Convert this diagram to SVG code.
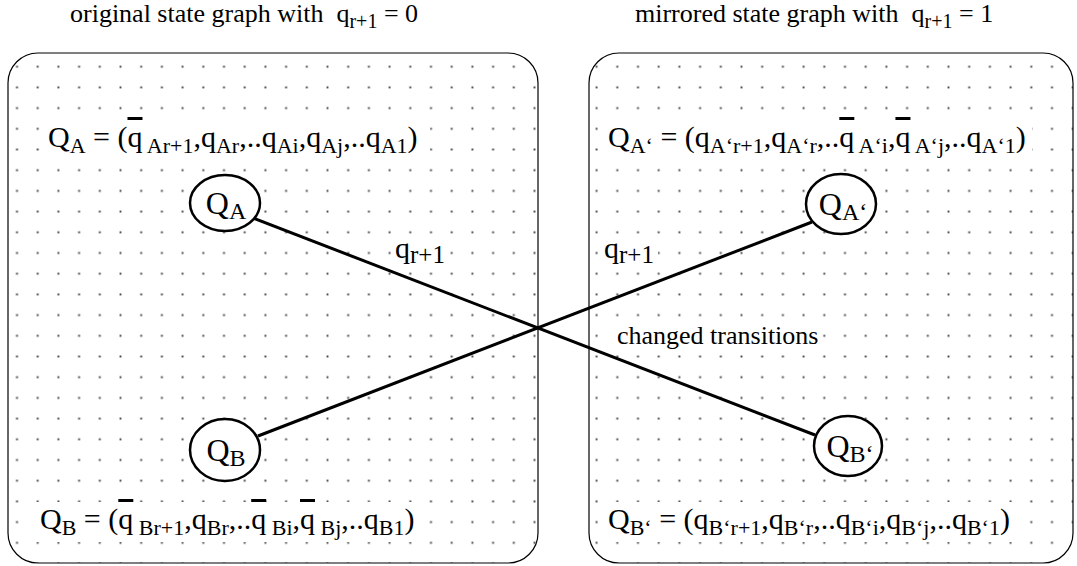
<svg xmlns="http://www.w3.org/2000/svg" width="1077" height="566" viewBox="0 0 1077 566">
<style>
text{font-family:"Liberation Serif","Times New Roman",serif;fill:#000}
.box{fill:url(#dots);stroke:#000;stroke-width:1.2}
.node{fill:#fff;stroke:#000;stroke-width:2.5}
.edge{stroke:#000;stroke-width:3;fill:none}
.bg{fill:#fff}
.ov{text-decoration:overline}
.f{font-size:30px}
.s{font-size:22px}
.n{font-size:32px;text-anchor:middle}
.ns{font-size:24px}
</style>
<defs>
<pattern id="dots" patternUnits="userSpaceOnUse" x="6.65" y="56.35" width="20.7" height="20.7">
<rect x="9.4" y="9.4" width="1.9" height="1.9" fill="#444"/>
</pattern>
</defs>
<g id="titles">
<text x="70" y="22" font-size="26">original state graph with&#160; q<tspan font-size="20" dy="6">r+1</tspan><tspan dy="-6"> = 0</tspan></text>
<text x="635" y="22" font-size="26">mirrored state graph with&#160; q<tspan font-size="20" dy="6">r+1</tspan><tspan dy="-6"> = 1</tspan></text>
</g>
<g id="left-panel">
<rect class="box" x="8" y="53" width="530" height="510" rx="30"/>
</g>
<g id="right-panel">
<rect class="box" x="589" y="53" width="484" height="510" rx="30"/>
</g>
<g id="labels">
<rect class="bg" x="42" y="120" width="388" height="40"/>
<text class="f" x="48" y="147">Q<tspan class="s" dy="6">A</tspan><tspan dy="-6"> = (</tspan><tspan class="ov">q</tspan><tspan class="s" dy="6"> Ar+1</tspan><tspan dy="-6">,q</tspan><tspan class="s" dy="6">Ar</tspan><tspan dy="-6">,..q</tspan><tspan class="s" dy="6">Ai</tspan><tspan dy="-6">,q</tspan><tspan class="s" dy="6">Aj</tspan><tspan dy="-6">,..q</tspan><tspan class="s" dy="6">A1</tspan><tspan dy="-6">)</tspan></text>
<rect class="bg" x="602" y="120" width="430" height="40"/>
<text class="f" x="608" y="147">Q<tspan class="s" dy="6">A‘</tspan><tspan dy="-6"> = (q</tspan><tspan class="s" dy="6">A‘r+1</tspan><tspan dy="-6">,q</tspan><tspan class="s" dy="6">A‘r</tspan><tspan dy="-6">,..</tspan><tspan class="ov">q</tspan><tspan class="s" dy="6"> A‘i</tspan><tspan dy="-6">,</tspan><tspan class="ov">q</tspan><tspan class="s" dy="6"> A‘j</tspan><tspan dy="-6">,..q</tspan><tspan class="s" dy="6">A‘1</tspan><tspan dy="-6">)</tspan></text>
<rect class="bg" x="34" y="502" width="390" height="40"/>
<text class="f" x="40" y="529">Q<tspan class="s" dy="6">B</tspan><tspan dy="-6"> = (</tspan><tspan class="ov">q</tspan><tspan class="s" dy="6"> Br+1</tspan><tspan dy="-6">,q</tspan><tspan class="s" dy="6">Br</tspan><tspan dy="-6">,..</tspan><tspan class="ov">q</tspan><tspan class="s" dy="6"> Bi</tspan><tspan dy="-6">,</tspan><tspan class="ov">q</tspan><tspan class="s" dy="6"> Bj</tspan><tspan dy="-6">,..q</tspan><tspan class="s" dy="6">B1</tspan><tspan dy="-6">)</tspan></text>
<rect class="bg" x="602" y="502" width="420" height="40"/>
<text class="f" x="608" y="529">Q<tspan class="s" dy="6">B‘</tspan><tspan dy="-6"> = (q</tspan><tspan class="s" dy="6">B‘r+1</tspan><tspan dy="-6">,q</tspan><tspan class="s" dy="6">B‘r</tspan><tspan dy="-6">,..q</tspan><tspan class="s" dy="6">B‘i</tspan><tspan dy="-6">,q</tspan><tspan class="s" dy="6">B‘j</tspan><tspan dy="-6">,..q</tspan><tspan class="s" dy="6">B‘1</tspan><tspan dy="-6">)</tspan></text>
<rect class="bg" x="393" y="240" width="56" height="30"/>
<text x="395" y="258" font-size="30">q<tspan font-size="25" dy="5">r+1</tspan></text>
<rect class="bg" x="602" y="240" width="56" height="30"/>
<text x="604" y="258" font-size="30">q<tspan font-size="25" dy="5">r+1</tspan></text>
<rect class="bg" x="614" y="324" width="208" height="26"/>
<text x="617" y="344" font-size="26">changed transitions</text>
</g>
<g id="connectors">
<line class="edge" x1="253" y1="218" x2="815" y2="435"/>
<line class="edge" x1="258" y1="436" x2="812" y2="222"/>
</g>
<g id="node-QA">
<ellipse class="node" cx="225" cy="203" rx="35" ry="28"/>
<text class="n" x="226" y="214">Q<tspan class="ns" dy="5">A</tspan></text>
</g>
<g id="node-QA2">
<ellipse class="node" cx="841" cy="204" rx="35" ry="30"/>
<text class="n" x="843" y="215">Q<tspan class="ns" dy="5">A‘</tspan></text>
</g>
<g id="node-QB">
<ellipse class="node" cx="225" cy="450" rx="35" ry="31"/>
<text class="n" x="226" y="461">Q<tspan class="ns" dy="5">B</tspan></text>
</g>
<g id="node-QB2">
<ellipse class="node" cx="848" cy="446" rx="34" ry="30"/>
<text class="n" x="850" y="457">Q<tspan class="ns" dy="5">B‘</tspan></text>
</g>
</svg>
